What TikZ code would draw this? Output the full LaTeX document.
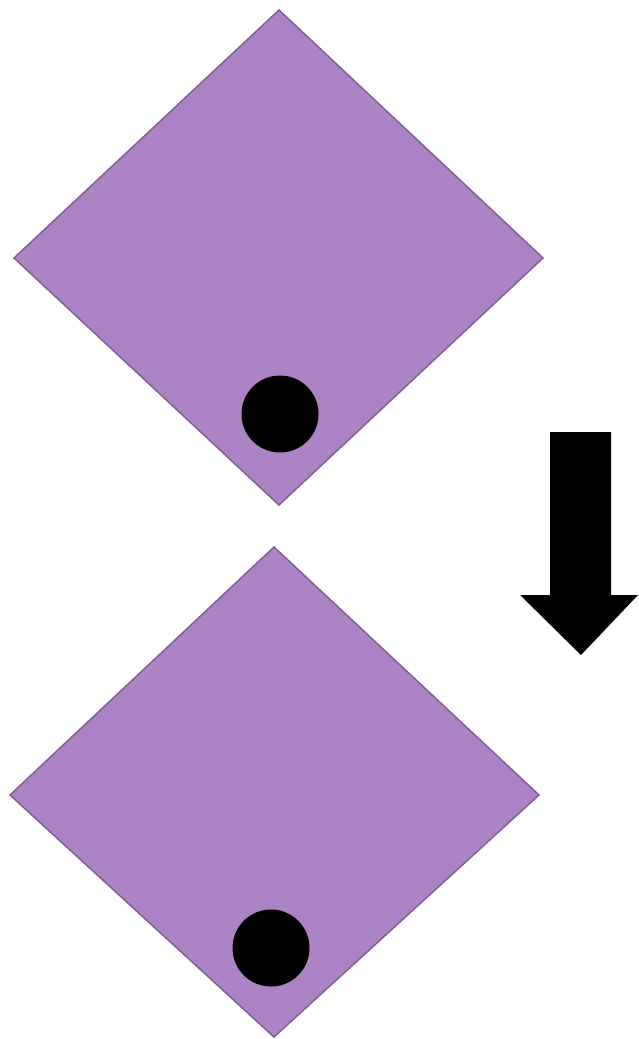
\documentclass[tikz,border=0pt]{standalone}
\begin{document}
\begin{tikzpicture}[x=1pt,y=-1pt,
  dia/.style={fill=diafill,draw=diaedge,line width=1.5pt,line join=miter},
  ball/.style={fill=black}]
\definecolor{diafill}{HTML}{AC83C4}
\definecolor{diaedge}{HTML}{7E609A}
\useasboundingbox (0,0) rectangle (638,1039);
% top diamond
\path[dia] (279,10) coordinate (t1) -- (543,258) -- (279,505) -- (14,258) -- cycle;
\node[ball,circle,minimum size=77pt,inner sep=0pt] (b1) at (280,414) {};
% bottom diamond
\path[dia] (274,547) coordinate (t2) -- (539,795) -- (274,1037) -- (10,795) -- cycle;
\node[ball,circle,minimum size=77pt,inner sep=0pt] (b2) at (271,948) {};
% arrow
\fill[black] (550,432) -- (611,432) -- (611,595) -- (638,595) -- (581,655) -- (520,595) -- (550,595) -- cycle;
\end{tikzpicture}
\end{document}
